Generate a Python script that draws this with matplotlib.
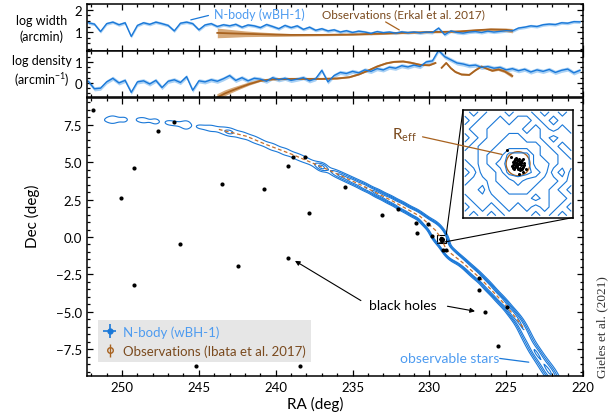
import numpy as np
import matplotlib
matplotlib.use('Agg')
import matplotlib.pyplot as plt
from matplotlib.ticker import MultipleLocator, NullFormatter
from matplotlib.patches import Circle
from mpl_toolkits.axes_grid1.inset_locator import mark_inset

plt.rcParams['font.family'] = ['Lato', 'DejaVu Sans']
plt.rcParams['mathtext.fontset'] = 'custom'
plt.rcParams['mathtext.rm'] = 'Lato'
plt.rcParams['mathtext.it'] = 'Lato'

# ---------------- data ----------------
# N-body (wBH-1) profiles along the stream, RA bins every 0.4 deg from 252.2 to 220.2
nb_ra = np.round(np.arange(252.2, 220.0, -0.4), 1)
nb_logw = [1.42, 1.36, 1.02, 1.38, 1.45, 1.33, 1.42, 0.80, 1.30, 1.42,
           1.35, 1.45, 1.38, 1.30, 1.05, 1.40, 1.45, 1.38, 1.10, 1.32,
           1.38, 1.25, 1.33, 1.28, 1.35, 1.22, 1.32, 1.28, 1.20, 1.34,
           1.25, 1.15, 1.30, 1.20, 1.28, 1.12, 1.22, 1.08, 1.15, 1.05,
           1.10, 1.00, 1.06, 0.98, 1.04, 1.00, 0.94, 1.02, 0.97, 1.00,
           0.95, 1.01, 0.97, 1.00, 0.96, 1.00, 0.98, 1.18, 0.88, 1.05,
           0.98, 0.95, 1.00, 1.02, 0.98, 1.04, 1.00, 1.03, 1.06, 1.05,
           1.18, 1.22, 1.28, 1.25, 1.33, 1.36, 1.34, 1.42, 1.40, 1.47, 1.46]
nb_logd = [0.08, -0.28, -0.25, 0.05, 0.22, 0.00, 0.12, -0.45, 0.05, 0.10,
           -0.05, 0.12, -0.22, 0.08, 0.15, 0.02, 0.30, -0.35, 0.10, 0.05,
           0.15, 0.08, 0.20, 0.35, 0.12, 0.25, 0.10, 0.22, 0.18, 0.08,
           0.25, 0.15, 0.22, 0.12, 0.18, 0.25, 0.10, 0.20, 0.60, 0.05,
           0.35, 0.50, 0.45, 0.55, 0.48, 0.62, 0.55, 0.68, 0.62, 0.75,
           0.70, 0.82, 0.76, 0.85, 0.78, 1.00, 1.05, 1.55, 1.25, 1.10,
           0.95, 0.90, 0.82, 0.85, 0.74, 0.78, 0.70, 0.74, 0.62, 0.68,
           0.58, 0.65, 0.52, 0.62, 0.55, 0.64, 0.50, 0.60, 0.66, 0.48, 0.60]
nb_logw_err = 0.07
nb_logd_err = 0.10

# Observations (Erkal et al. 2017)
obs_w_ra = [243.8, 243.0, 242.0, 241.0, 240.0, 239.0, 238.0, 237.0, 236.0, 235.0, 234.0,
            233.0, 232.0, 231.0, 230.0, 229.0, 228.0, 227.0, 226.0, 225.0, 224.6]
obs_logw = [0.96, 0.94, 0.92, 0.90, 0.88, 0.87, 0.87, 0.87, 0.88, 0.89, 0.91,
            0.93, 0.96, 0.98, 1.00, 1.01, 1.03, 1.08, 1.12, 1.10, 1.06]
obs_logw_err = [0.22, 0.18, 0.13, 0.10, 0.08, 0.06, 0.05, 0.04, 0.04, 0.04, 0.04,
                0.04, 0.04, 0.04, 0.04, 0.04, 0.05, 0.05, 0.06, 0.08, 0.10]
obs_d_ra = [243.8, 243.3, 242.8, 242.3, 241.7, 241.0, 240.2, 239.0, 238.0, 237.0, 236.0,
            235.2, 234.6, 234.0, 233.4, 232.8, 232.3, 231.7, 231.2, 230.6, 230.0, 229.6,
            229.45, 229.2, 228.9, 228.6, 228.3, 227.9, 227.4, 227.0, 226.6, 226.2, 225.9,
            225.5, 225.1, 224.6]
obs_logd = [-0.69, -0.50, -0.35, -0.21, -0.05, 0.10, 0.17, 0.19, 0.19, 0.19, 0.21,
            0.27, 0.40, 0.58, 0.78, 0.93, 1.00, 1.02, 0.96, 0.86, 0.84, 0.95,
            np.nan, 0.72, 0.95, 0.70, 0.52, 0.40, 0.38, 0.60, 0.78, 0.66, 0.58,
            0.64, 0.55, 0.33]
obs_logd_err = [0.15, 0.14, 0.12, 0.10, 0.08, 0.06, 0.05, 0.05, 0.05, 0.05, 0.05,
                0.05, 0.05, 0.05, 0.05, 0.05, 0.05, 0.05, 0.05, 0.05, 0.05, 0.05,
                np.nan, 0.05, 0.05, 0.05, 0.05, 0.05, 0.05, 0.05, 0.05, 0.05, 0.06,
                0.07, 0.08, 0.10]

# stream track (N-body) on the sky
trk_ra = [252.6, 251.0, 249.0, 247.0, 245.5, 243.7, 241.9, 240.6, 238.86, 236.7, 234.5,
          232.35, 230.6, 229.6, 229.2, 228.9, 227.8, 226.6, 226.0, 225.0, 224.1, 223.35,
          222.6, 222.0, 221.4]
trk_dec = [7.6, 7.85, 7.85, 7.65, 7.45, 7.2, 6.74, 6.18, 5.5, 4.55, 3.5,
           2.38, 1.38, 0.45, -0.14, -0.85, -1.74, -2.85, -3.5, -4.6, -5.76, -7.26,
           -8.42, -9.3, -10.2]

# observed track (Ibata et al. 2017)
ib_ra = [243.7, 241.9, 240.6, 238.86, 236.7, 234.5, 232.35, 230.6, 229.6, 229.2,
         228.9, 227.8, 226.6, 226.0, 225.0, 224.1, 223.8]
ib_dec = [7.2, 6.74, 6.18, 5.5, 4.55, 3.5, 2.38, 1.38, 0.45, -0.14,
          -0.85, -1.74, -2.85, -3.5, -4.6, -5.76, -6.2]

# black holes
bh_ra = [251.86, 249.2, 250.07, 249.2, 247.68, 246.64, 246.2, 243.5, 242.47, 240.76,
         241.2, 245.2, 239.2, 238.9, 239.2, 238.07, 237.86, 238.4, 235.51, 233.1,
         232.06, 230.9, 230.8, 230.1, 229.85, 229.1, 228.9, 226.75, 226.8, 224.97,
         226.4, 225.5]
bh_dec = [8.48, 4.64, 2.59, -3.19, 7.07, 7.68, -0.45, 3.52, -1.92, 3.21,
          -5.81, -8.64, 4.78, 5.36, -1.39, 5.36, 1.58, -8.64, 3.35, 1.45,
          1.87, 0.96, 0.29, 0.89, 0.09, -0.87, -0.9, -2.75, -3.57, -4.67,
          -5.05, -7.28]

# Pal 5 cluster
cl_ra, cl_dec = 229.2, -0.14
cl_dra = [0, 1, -1, 0.5, -1.5, 2, -2, 1.5, -0.5, 2.5, -2.5, 0.8, -1.2, 3, -3, 0.2, 1.8, -2.2,
          2.8, -1.8, 0.6, -0.7, 1.2, -0.3, 2.2, -2.6, 3.2, -0.9, 1, -3.4, 0.4, 1.6, -1.4, 0.0,
          2.0, 5.8, -0.5, -2.5, -4.5, 4]
cl_ddec = [0, 0.5, 1, -1, -0.5, 1.5, 2, -2, 2.5, -0.5, -1.5, 1.8, -2.2, 0.8, 0.5, -3, 2.8, -2.8,
           -2.2, 1.2, 0.3, -0.4, -0.8, 1.5, 0.2, 2.6, -1.4, -3.2, 3.2, -0.6, -1.8, 1.0, 0.2, 2.0,
           -3.0, 7.3, -5.5, -4.5, -3.0, 3.5]
r_eff = 0.065
# inset density map (levels, rows from top to bottom)
inset_map = np.array([
    [0, 1, 0, 1, 1, 2, 1, 1, 0, 1, 0, 1, 0],
    [1, 0, 1, 1, 2, 1, 2, 2, 1, 0, 1, 0, 0],
    [0, 1, 1, 2, 2, 2, 2, 1, 2, 1, 0, 1, 0],
    [1, 0, 1, 2, 2, 3, 3, 2, 2, 1, 2, 1, 1],
    [0, 1, 2, 2, 3, 3, 3, 3, 3, 2, 1, 0, 1],
    [1, 1, 2, 3, 3, 5, 5, 5, 3, 2, 2, 1, 0],
    [0, 1, 2, 3, 4, 5, 5, 5, 3, 3, 2, 1, 1],
    [1, 0, 2, 2, 3, 5, 5, 5, 4, 3, 1, 2, 0],
    [0, 1, 1, 2, 3, 3, 4, 3, 3, 2, 2, 1, 0],
    [1, 1, 0, 2, 2, 3, 3, 3, 2, 2, 1, 0, 1],
    [0, 1, 1, 1, 2, 2, 2, 2, 3, 2, 1, 1, 0],
    [1, 0, 1, 0, 1, 2, 1, 2, 1, 2, 1, 0, 1],
    [0, 1, 0, 1, 0, 1, 1, 1, 2, 1, 0, 1, 0]])

# ---------------- styles ----------------
C_NB = '#1a78d8'
C_NB_TXT = '#4d9bf0'
C_NB_BAND = '#a9d1f5'
C_OBS = '#a8621f'
C_OBS_TXT = '#7a4a1e'
C_OBS_BAND = '#d6a878'

fig = plt.figure(figsize=(6.13, 4.14), dpi=100)
W, H = 613, 414
def rect(x0, y0, x1, y1):
    return [x0 / W, 1 - y1 / H, (x1 - x0) / W, (y1 - y0) / H]

ax1 = fig.add_axes(rect(87, 5, 583, 52))
ax2 = fig.add_axes(rect(87, 52, 583, 98))
ax = fig.add_axes(rect(87, 99, 583, 377))

XL = (252.28, 220.0)

def style(a, ymaj, ymin):
    a.set_xlim(*XL)
    a.xaxis.set_major_locator(MultipleLocator(5))
    a.xaxis.set_minor_locator(MultipleLocator(1))
    a.yaxis.set_major_locator(MultipleLocator(ymaj))
    a.yaxis.set_minor_locator(MultipleLocator(ymin))
    a.tick_params(which='both', direction='in', top=True, right=True, labelsize=9.5, width=0.9)
    a.tick_params(which='major', length=4)
    a.tick_params(which='minor', length=2)
    for s in a.spines.values():
        s.set_linewidth(1.1)

# ---- panel 1 : width
style(ax1, 1, 0.25)
ax1.set_ylim(0.14, 2.27)
nbw = np.array(nb_logw)
ax1.fill_between(nb_ra, nbw - nb_logw_err, nbw + nb_logw_err, color=C_NB_BAND, lw=0)
ow = np.array(obs_logw); owe = np.array(obs_logw_err)
ax1.fill_between(obs_w_ra, ow - owe, ow + owe, color=C_OBS_BAND, lw=0)
ax1.plot(obs_w_ra, ow, color=C_OBS, lw=1.3)
ax1.plot(nb_ra, nbw, color=C_NB, lw=1.0)
ax1.xaxis.set_major_formatter(NullFormatter())
ax1.annotate('', xy=(245.7, 1.52), xytext=(244.2, 1.78),
             arrowprops=dict(arrowstyle='-', color=C_NB, lw=0.9))
ax1.text(244.0, 1.82, 'N-body (wBH-1)', color=C_NB_TXT, fontsize=9, ha='left', va='center')
ax1.annotate('', xy=(231.8, 1.03), xytext=(233.0, 1.52),
             arrowprops=dict(arrowstyle='-', color=C_OBS, lw=0.9))
ax1.text(231.7, 1.82, 'Observations (Erkal et al. 2017)', color=C_OBS_TXT, fontsize=8.5,
         ha='center', va='center')

# ---- panel 2 : density
style(ax2, 1, 0.25)
ax2.set_ylim(-0.67, 1.52)
nbd = np.array(nb_logd)
ax2.fill_between(nb_ra, nbd - nb_logd_err, nbd + nb_logd_err, color=C_NB_BAND, lw=0)
od = np.array(obs_logd); ode = np.array(obs_logd_err)
ax2.fill_between(obs_d_ra, od - ode, od + ode, color=C_OBS_BAND, lw=0)
ax2.plot(obs_d_ra, od, color=C_OBS, lw=1.3)
ax2.plot(nb_ra, nbd, color=C_NB, lw=1.0)
ax2.xaxis.set_major_formatter(NullFormatter())

fig.text(42 / W, 1 - 29 / H, 'log width\n(arcmin)', ha='center', va='center', fontsize=9,
         linespacing=1.3)
fig.text(42 / W, 1 - 72 / H, 'log density\n(arcmin$^{-1}$)', ha='center', va='center',
         fontsize=9, linespacing=1.3)

# ---- main panel
style(ax, 2.5, 0.5)
ax.set_ylim(-9.3, 9.3)

# density field built from the N-body profiles along the track
cx = np.array(nb_ra)
cy = np.interp(cx, trk_ra[::-1], trk_dec[::-1])
dx = np.gradient(cx); dy = np.gradient(cy)
L = np.hypot(dx, dy); tx, ty = dx / L, dy / L
amp = 10 ** nbd
sperp = 0.16 * np.sqrt(10 ** (nbw - 1.0))
sal = 0.6 * L
gx, gy = np.meshgrid(np.linspace(219.5, 252.8, 700), np.linspace(-10.5, 9.8, 440))
F = np.zeros_like(gx)
for i in range(len(cx)):
    px = gx - cx[i]; py = gy - cy[i]
    al = px * tx[i] + py * ty[i]
    pe = -px * ty[i] + py * tx[i]
    F += amp[i] * np.exp(-0.5 * (al / sal[i]) ** 2 - 0.5 * (pe / sperp[i]) ** 2)
ax.contour(gx, gy, F, levels=[1.4, 2.6, 4.0, 5.8], colors=C_NB, linewidths=0.8)

ax.plot(ib_ra, ib_dec, color='#c8702a', lw=0.9, ls=(0, (3, 2)))
ax.plot(bh_ra, bh_dec, 'o', color='black', ms=3, mew=0)
ax.plot(cl_ra + np.array(cl_dra) * 0.01, cl_dec + np.array(cl_ddec) * 0.01, 'o',
        color='black', ms=2.5, mew=0)

ax.set_xlabel('RA (deg)', fontsize=11)
ax.xaxis.set_label_coords(0.46, -0.07)
ax.set_ylabel('Dec (deg)', fontsize=11)
ax.yaxis.set_label_coords(-0.095, 0.58)

# legend
h1 = ax.errorbar([np.nan], [np.nan], xerr=[1], yerr=[1], fmt='o', color=C_NB, ms=3.5,
                 elinewidth=1.2, capsize=0)
h2 = ax.errorbar([np.nan], [np.nan], yerr=[1], fmt='o', color=C_OBS, mfc='none', ms=4,
                 elinewidth=1.0, capsize=0)
leg = ax.legend([h1, h2], ['N-body (wBH-1)', 'Observations (Ibata et al. 2017)'],
                loc='lower left', bbox_to_anchor=(0.022, 0.05), borderaxespad=0,
                frameon=True, fancybox=False, facecolor='#e6e6e6', edgecolor='none',
                framealpha=1, fontsize=9.5, handlelength=1.0, handletextpad=0.5)
leg.get_texts()[0].set_color(C_NB_TXT)
leg.get_texts()[1].set_color(C_OBS_TXT)

# annotations
ax.annotate('', xy=(238.9, -1.5), xytext=(234.3, -4.35),
            arrowprops=dict(arrowstyle='-|>', color='black', lw=0.8, mutation_scale=7))
ax.annotate('', xy=(226.85, -5.0), xytext=(229.0, -4.6),
            arrowprops=dict(arrowstyle='-|>', color='black', lw=0.8, mutation_scale=7))
ax.text(231.7, -4.55, 'black holes', fontsize=10, ha='center', va='center')
ax.annotate('', xy=(223.35, -8.4), xytext=(225.6, -8.1),
            arrowprops=dict(arrowstyle='-', color=C_NB, lw=0.9))
ax.text(228.7, -8.1, 'observable stars', fontsize=10, ha='center', va='center', color=C_NB_TXT)

# inset
axins = ax.inset_axes([0.758, 0.570, 0.222, 0.387])
half = 0.3
axins.set_xlim(cl_ra + half, cl_ra - half)
axins.set_ylim(cl_dec - 0.29, cl_dec + 0.29)
axins.set_xticks([]); axins.set_yticks([])
for s in axins.spines.values():
    s.set_linewidth(1.1)
ix = np.linspace(cl_ra + 0.29, cl_ra - 0.29, inset_map.shape[1])
iy = np.linspace(cl_dec + 0.28, cl_dec - 0.28, inset_map.shape[0])
axins.contour(ix, iy, inset_map, levels=[0.5, 1.5, 2.5, 3.5, 4.5], colors=C_NB, linewidths=0.8)
axins.plot(cl_ra + np.array(cl_dra) * 0.01, cl_dec + np.array(cl_ddec) * 0.01, 'o',
           color='black', ms=2.2, mew=0)
axins.add_patch(Circle((cl_ra, cl_dec), r_eff, fill=False, ec=C_OBS, lw=1.0))
mark_inset(ax, axins, loc1=2, loc2=4, fc='none', ec='black', lw=0.8)
axins.annotate(r'R$_{\mathregular{eff}}$', xy=(cl_ra + 0.073, cl_dec + 0.047),
               xytext=(230.8, 6.9), textcoords=ax.transData, color=C_OBS_TXT, fontsize=11,
               ha='right', va='center',
               arrowprops=dict(arrowstyle='-', color=C_OBS, lw=0.9, relpos=(1.0, 0.4)))

fig.text(602 / W, 1 - 327 / H, 'Gieles et al. (2021)', rotation=90, ha='center', va='center',
         fontsize=9.5, family='Liberation Serif', color='#333333')

fig.savefig('out.png', dpi=100)
